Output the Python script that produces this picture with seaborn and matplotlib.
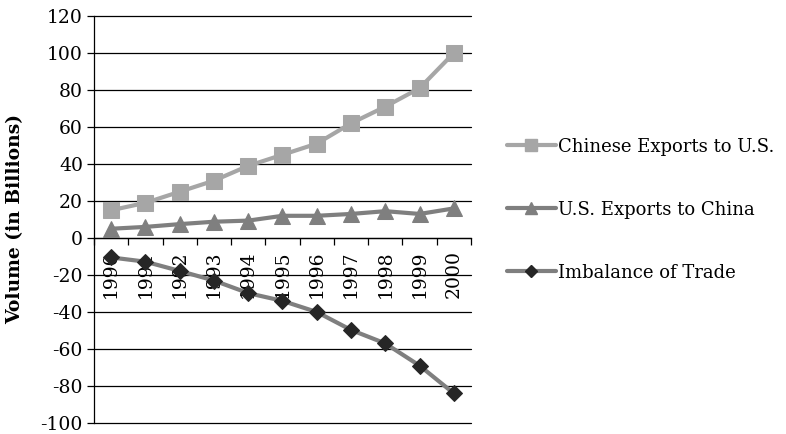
import matplotlib
matplotlib.use("Agg")
import matplotlib.pyplot as plt
import seaborn as sns
import pandas as pd
import numpy as np
from matplotlib.lines import Line2D

years = ["1990", "1991", "1992", "1993", "1994", "1995", "1996", "1997", "1998", "1999", "2000"]
chinese_exports = [15, 19, 25, 31, 39, 45, 51, 62, 71, 81, 100]
us_exports = [5, 6, 7.5, 8.8, 9.4, 12, 12, 13, 14.5, 13, 16]
imbalance = [-10.5, -12.8, -17.8, -23, -29.8, -34, -40, -49.7, -57, -69, -84]
series_names = ["Chinese Exports to U.S.", "U.S. Exports to China", "Imbalance of Trade"]

sns.set_theme(style="white")
plt.rcParams['font.family'] = ['DejaVu Serif']
plt.rcParams['text.color'] = 'black'
plt.rcParams['axes.labelcolor'] = 'black'
plt.rcParams['xtick.color'] = 'black'
plt.rcParams['ytick.color'] = 'black'

rows = []
for name, vals in zip(series_names, [chinese_exports, us_exports, imbalance]):
    for i, v in enumerate(vals):
        rows.append({"idx": i, "year": years[i], "value": v, "series": name})
df = pd.DataFrame(rows)

line_colors = {"Chinese Exports to U.S.": "#a6a6a6", "U.S. Exports to China": "#7f7f7f", "Imbalance of Trade": "#7f7f7f"}
marker_colors = {"Chinese Exports to U.S.": "#a6a6a6", "U.S. Exports to China": "#7f7f7f", "Imbalance of Trade": "#262626"}
markers = {"Chinese Exports to U.S.": "s", "U.S. Exports to China": "^", "Imbalance of Trade": "D"}
msizes = {"Chinese Exports to U.S.": 12, "U.S. Exports to China": 12, "Imbalance of Trade": 8.5}

fs = 13.5
lfs = 13
fig = plt.figure(figsize=(7.86, 4.34), dpi=100)
ax = fig.add_axes([94/786, 11/434, (471-94)/786, (423-16)/434])

for name in series_names:
    sub = df[df.series == name]
    sns.lineplot(data=sub, x="idx", y="value", ax=ax, color=line_colors[name],
                 linewidth=3, marker=markers[name], markersize=msizes[name],
                 markerfacecolor=marker_colors[name], markeredgecolor=marker_colors[name],
                 legend=False, zorder=3)

ax.set_xlim(-0.5, len(years) - 0.5)
ax.set_ylim(-100, 120)
ax.set_yticks(np.arange(-100, 121, 20))
ax.set_yticklabels([str(v) for v in range(-100, 121, 20)], fontsize=fs)
ax.yaxis.grid(True, color="black", linewidth=0.9)
for gl in ax.get_ygridlines():
    gl.set_clip_on(False)
ax.set_axisbelow(True)

for s in ["top", "right"]:
    ax.spines[s].set_visible(False)
ax.spines["left"].set_color("black")
ax.spines["left"].set_linewidth(0.9)
ax.spines["bottom"].set_position(("data", 0))
ax.spines["bottom"].set_color("black")
ax.spines["bottom"].set_linewidth(0.9)

ax.set_xticks(np.arange(-0.5, len(years), 1.0))
ax.set_xticklabels([])
ax.set_xticks(np.arange(len(years)), minor=True)
ax.set_xticklabels(years, minor=True, rotation=90, fontsize=fs, va="top")
ax.tick_params(axis="x", which="major", direction="out", length=5, width=0.9, color="black", bottom=True)
ax.tick_params(axis="x", which="minor", length=0, pad=9, bottom=True)
ax.tick_params(axis="y", direction="out", length=5, width=0.9, color="black", left=True, pad=3)
ax.set_xlabel("")
ax.set_ylabel("Volume (in Billions)", fontsize=fs, fontweight="bold", labelpad=12)

handles = [Line2D([0], [0], color=line_colors[n], linewidth=3, marker=markers[n],
                  markersize=msizes[n] * 0.7, markerfacecolor=marker_colors[n],
                  markeredgecolor=marker_colors[n]) for n in series_names]
fig.legend(handles, series_names, loc="upper left", bbox_to_anchor=(507/786, 1 - 137.5/434),
           frameon=False, fontsize=lfs, handlelength=2.7, handletextpad=0.15,
           labelspacing=2.5, borderpad=0, borderaxespad=0)

fig.savefig("out.png", dpi=100)
